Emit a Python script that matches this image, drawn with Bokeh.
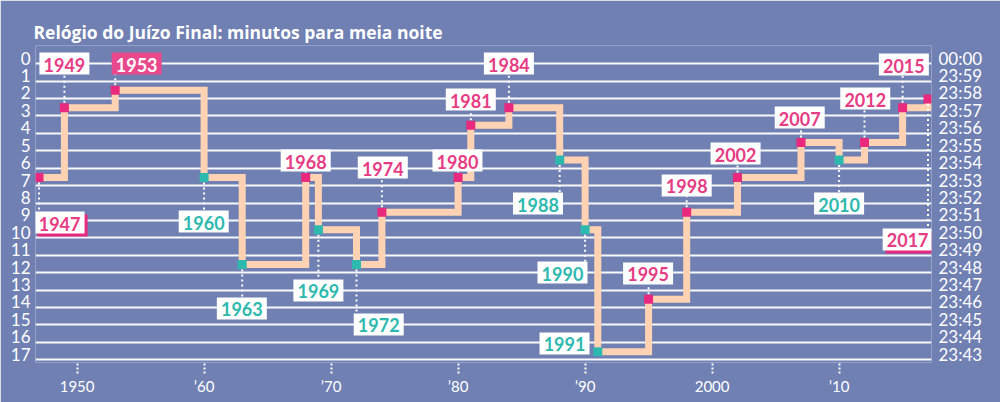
from bokeh.plotting import figure
from bokeh.models import Range1d, FixedTicker, LinearAxis, ColumnDataSource
from bokeh.core.properties import value
from bokeh.embed import file_html
from bokeh.resources import INLINE

# ---------------- data ----------------
years = [1947, 1949, 1953, 1960, 1963, 1968, 1969, 1972, 1974, 1980, 1981, 1984,
         1988, 1990, 1991, 1995, 1998, 2002, 2007, 2010, 2012, 2015, 2017]
minutes = [7, 3, 2, 7, 12, 7, 10, 12, 9, 7, 4, 3,
           6, 10, 17, 14, 9, 7, 5, 6, 5, 3, 2.5]

left_ticks = list(range(18))
left_labels = [str(k) for k in left_ticks]
right_labels = ["00:00", "23:59", "23:58", "23:57", "23:56", "23:55", "23:54", "23:53", "23:52",
                "23:51", "23:50", "23:49", "23:48", "23:47", "23:46", "23:45", "23:44", "23:43"]
x_ticks = [1950, 1960, 1970, 1980, 1990, 2000, 2010]
x_labels = ["1950", "\u201960", "\u201970", "\u201980", "\u201990", "2000", "\u201910"]

title = "Relógio do Juízo Final: minutos para meia noite"

# ---------------- layout of the year labels (annotation placement) ----------------
label_x = [1948.62, 1949.0, 1954.69, 1959.97, 1962.97, 1968.0, 1969.0, 1973.75, 1974.07,
           1979.95, 1981.0, 1984.0, 1986.29, 1988.22, 1988.38, 1994.96, 1998.0, 2001.85,
           2006.9, 2010.0, 2012.06, 2015.1, 2015.4]
label_y = [9.59, 0.46, 0.46, 9.53, 14.52, 6.03, 13.49, 15.44, 6.43, 6.03, 2.53, 0.46,
           8.5, 12.46, 16.53, 12.51, 7.46, 5.63, 3.56, 8.5, 2.47, 0.52, 10.56]
highlight_year = 1953
shadow_years = [1947, 2017]
no_leader = [1991]

# ---------------- style ----------------
BG = "#7080B3"
PEACH = "#FFD2B4"
PINK = "#E8297D"
PINK_TXT = "#E63C84"
TEAL = "#2DB9AE"
FONT = "Lato"

X0, X1 = 1946.724, 2017.276
Y_TOP, Y_BOT = -0.574, 17.624
FRAME_W, FRAME_H = 896, 317
px_x = FRAME_W / (X1 - X0)
px_y = FRAME_H / (Y_BOT - Y_TOP)
BOX_W, BOX_H = 50, 22

p = figure(width=1000, height=402, output_backend="svg", toolbar_location=None,
           x_range=Range1d(X0, X1), y_range=Range1d(Y_BOT, Y_TOP),
           min_border_left=35, min_border_right=69, min_border_top=45, min_border_bottom=40,
           background_fill_color=BG, border_fill_color=BG, outline_line_color=None)

p.title.text = title
p.title.text_font = "Open Sans"
p.title.text_font_style = "bold"
p.title.text_font_size = "17.5px"
p.title.text_color = "white"
p.title.align = "left"
p.title.offset = -2
p.title.standoff = 4

# grid
p.xgrid.visible = False
p.ygrid.ticker = FixedTicker(ticks=[k + 0.47 for k in left_ticks])
p.ygrid.grid_line_color = "white"
p.ygrid.grid_line_width = 2
p.ygrid.grid_line_alpha = 0.95

# left axis
la = p.yaxis[0]
la.ticker = FixedTicker(ticks=[k + 0.15 for k in left_ticks])
la.major_label_overrides = {k + 0.15: lab for k, lab in zip(left_ticks, left_labels)}

ra = LinearAxis(ticker=FixedTicker(ticks=[k + 0.15 for k in left_ticks]))
ra.major_label_overrides = {k + 0.15: lab for k, lab in zip(left_ticks, right_labels)}
p.add_layout(ra, "right")

for ax, so in [(la, 5), (ra, 7)]:
    ax.axis_line_color = None
    ax.major_tick_line_color = None
    ax.minor_tick_line_color = None
    ax.major_tick_out = 0
    ax.major_tick_in = 0
    ax.major_label_standoff = so
    ax.major_label_text_color = "white"
    ax.major_label_text_font = FONT
    ax.major_label_text_font_size = "17px"

xa = p.xaxis[0]
xa.ticker = FixedTicker(ticks=x_ticks)
xa.major_label_overrides = dict(zip(x_ticks, x_labels))
xa.axis_line_color = None
xa.minor_tick_line_color = None
xa.major_tick_in = 0
xa.major_tick_out = 11
xa.major_tick_line_color = "white"
xa.major_tick_line_width = 2
xa.major_tick_line_dash = "2 2"
xa.major_label_standoff = 3
xa.major_label_text_color = "white"
xa.major_label_text_font = FONT
xa.major_label_text_font_size = "15px"

# step line
p.step(years, minutes, mode="after", line_width=7, line_color=PEACH, line_join="miter")

# derived colours
colors = [PINK] + [PINK if b < a else TEAL for a, b in zip(minutes, minutes[1:])]
txt_colors = []
box_colors = []
for y, c in zip(years, colors):
    if y == highlight_year:
        txt_colors.append("white")
        box_colors.append("#E8488C")
    else:
        txt_colors.append(PINK_TXT if c == PINK else TEAL)
        box_colors.append("white")

# leader lines
half_h = (BOX_H / 2) / px_y
lx0, ly0, ly1 = [], [], []
for y, m, yl in zip(years, minutes, label_y):
    if y in no_leader:
        continue
    lx0.append(y)
    ly0.append(m)
    ly1.append(yl + half_h if yl < m else yl - half_h)
p.segment(x0=lx0, y0=ly0, x1=lx0, y1=ly1, line_color="white", line_width=2, line_dash="2 3")

# markers
p.scatter(years, minutes, marker="square", size=9, fill_color=colors, line_color=None)

# label shadows
sx = [x + 3 / px_x for x, y in zip(label_x, years) if y in shadow_years]
sy = [v + 3 / px_y for v, y in zip(label_y, years) if y in shadow_years]
p.rect(x=sx, y=sy, width=BOX_W, height=BOX_H, width_units="screen", height_units="screen",
       fill_color=PINK, line_color=None)

src = ColumnDataSource(dict(x=label_x, y=label_y, text=[str(y) for y in years],
                            tc=txt_colors, bc=box_colors))
p.rect(x="x", y="y", width=BOX_W, height=BOX_H, width_units="screen", height_units="screen",
       fill_color="bc", line_color=None, source=src)
p.text(x="x", y="y", text="text", text_color="tc", text_align="center", text_baseline="middle",
       text_font=value(FONT), text_font_style="bold", text_font_size="18px", source=src, y_offset=1)

open("out.html", "w").write(file_html(p, INLINE))
